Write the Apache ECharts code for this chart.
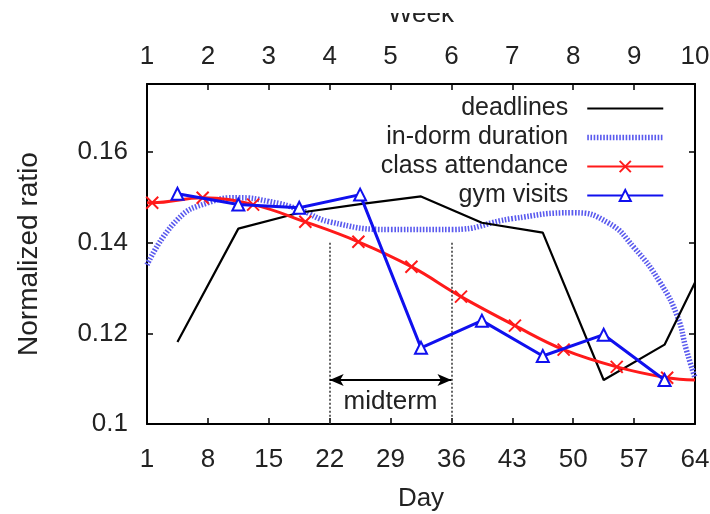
<!DOCTYPE html>
<html><head><meta charset="utf-8">
<script src="https://cdn.jsdelivr.net/npm/echarts@6/dist/echarts.min.js"></script>
<style>html,body{margin:0;padding:0;background:#fff}#c{width:710px;height:514px}</style>
</head><body><div id="c"></div>
<script>
// ---- data ----
const dayTicks = [1, 8, 15, 22, 29, 36, 43, 50, 57, 64];
const weekLabels = ['1', '2', '3', '4', '5', '6', '7', '8', '9', '10'];
const yTicks = [0.1, 0.12, 0.14, 0.16];

const deadlineDays = [4.5, 11.5, 18.5, 25.5, 32.5, 39.5, 46.5, 53.5, 60.5, 64];
const deadlineVals = [0.1181, 0.1431, 0.1466, 0.1485, 0.1502, 0.1444, 0.1422, 0.1097, 0.1175, 0.1312];

const dormDays = [1, 4.5, 8, 11.5, 15, 18.5, 22, 29, 36, 43, 50, 54, 57, 60, 62, 63, 64];
const dormVals = [0.1351, 0.1451, 0.1488, 0.1499, 0.1491, 0.1473, 0.1446, 0.1429, 0.1429, 0.1453, 0.1466, 0.1444, 0.1389, 0.1312, 0.1236, 0.1164, 0.1102];

const classDays = [1, 1.6, 7.4, 13.2, 19.2, 25.3, 31.4, 37.1, 43.3, 48.9, 55, 60.8, 64];
const classVals = [0.1488, 0.1488, 0.1499, 0.1484, 0.1446, 0.1402, 0.1347, 0.1281, 0.1217, 0.1164, 0.1126, 0.1102, 0.1097];

const gymDays = [4.5, 11.5, 18.5, 25.5, 32.5, 39.5, 46.5, 53.5, 60.5];
const gymVals = [0.1508, 0.1484, 0.1477, 0.1506, 0.1168, 0.1228, 0.1150, 0.1197, 0.1097];

const midtermDays = [22, 36];
const midtermTop = 0.14;
const arrowLevel = 0.1097;
const midtermLabelAt = [29, 0.1049];

// ---- build ----
const zip = (xs, ys) => xs.map((x, i) => [x, ys[i]]);
const FONT = 'Liberation Sans';
const TXT = '#222';
const DORM = '#5a5aee';

const classData = zip(classDays, classVals).map((p, i, a) =>
  (i === 0 || i === a.length - 1) ? { value: p, symbol: 'none' } : p);

const chart = echarts.init(document.getElementById('c'), null, { renderer: 'canvas' });
chart.setOption({
  animation: false,
  backgroundColor: '#fff',
  textStyle: { fontFamily: FONT },
  grid: { left: 147, right: 15, top: 84, bottom: 90, containLabel: false, outerBoundsMode: 'none' },
  legend: {
    orient: 'vertical', right: 39, top: 91, align: 'right',
    itemWidth: 76, itemHeight: 14, itemGap: 4,
    textStyle: { fontFamily: FONT, fontSize: 25, color: TXT, padding: [0, 14, 0, 0] },
    data: [
      { name: 'deadlines', itemStyle: { opacity: 0 } },
      { name: 'in-dorm duration', itemStyle: { opacity: 0 }, lineStyle: { width: 5.5, type: [1.6, 1.6], color: DORM } },
      'class attendance', 'gym visits'
    ]
  },
  xAxis: [{
    type: 'value', min: 1, max: 64, position: 'bottom',
    name: 'Day', nameLocation: 'middle', nameGap: 62,
    nameTextStyle: { fontFamily: FONT, fontSize: 26, color: TXT },
    axisLine: { show: true, lineStyle: { color: '#000', width: 2 } },
    axisTick: { show: true, inside: true, length: 6, customValues: dayTicks, lineStyle: { color: '#000', width: 1.5 } },
    axisLabel: { customValues: dayTicks, margin: 23, fontFamily: FONT, fontSize: 26, color: TXT },
    splitLine: { show: false }
  }, {
    type: 'value', min: 1, max: 64, position: 'top',
    name: 'Week', nameLocation: 'middle', nameGap: 56,
    nameTextStyle: { fontFamily: FONT, fontSize: 26, color: TXT },
    axisLine: { show: true, lineStyle: { color: '#000', width: 2 } },
    axisTick: { show: true, inside: true, length: 6, customValues: dayTicks, lineStyle: { color: '#000', width: 1.5 } },
    axisLabel: {
      customValues: dayTicks, margin: 14, fontFamily: FONT, fontSize: 26, color: TXT,
      formatter: v => weekLabels[dayTicks.indexOf(Math.round(v))] || ''
    },
    splitLine: { show: false }
  }],
  yAxis: [{
    type: 'value', min: 0.1, max: 0.175, position: 'left',
    name: 'Normalized ratio', nameLocation: 'middle', nameGap: 104,
    nameTextStyle: { fontFamily: FONT, fontSize: 28, color: TXT },
    axisLine: { show: true, lineStyle: { color: '#000', width: 2 } },
    axisTick: { show: true, inside: true, length: 6, customValues: yTicks, lineStyle: { color: '#000', width: 1.5 } },
    axisLabel: { customValues: yTicks, margin: 19, fontFamily: FONT, fontSize: 26, color: TXT },
    splitLine: { show: false }
  }, {
    type: 'value', min: 0.1, max: 0.175, position: 'right',
    axisLine: { show: true, lineStyle: { color: '#000', width: 2 } },
    axisTick: { show: true, inside: true, length: 6, customValues: yTicks, lineStyle: { color: '#000', width: 1.5 } },
    axisLabel: { show: false },
    splitLine: { show: false }
  }],
  series: [{
    name: 'deadlines', type: 'line', data: zip(deadlineDays, deadlineVals),
    symbol: 'none', lineStyle: { color: '#000', width: 2.2 }, itemStyle: { color: '#000' }, z: 3,
    markLine: {
      silent: true, symbol: ['none', 'none'], animation: false,
      lineStyle: { color: '#333', width: 1.5, type: [2, 2] },
      label: { show: false },
      data: [
        [{ coord: [midtermDays[0], midtermTop] }, { coord: [midtermDays[0], 0.1] }],
        [{ coord: [midtermDays[1], midtermTop] }, { coord: [midtermDays[1], 0.1] }],
        [{ coord: [midtermDays[0], arrowLevel], symbol: 'arrow', symbolSize: [9, 14], lineStyle: { color: '#000', width: 2, type: 'solid' } },
         { coord: [midtermDays[1], arrowLevel], symbol: 'arrow', symbolSize: [9, 14], lineStyle: { color: '#000', width: 2, type: 'solid' } }]
      ]
    },
    markPoint: {
      silent: true, symbol: 'rect', symbolSize: 1, itemStyle: { color: 'rgba(0,0,0,0)' },
      label: { show: true, position: 'inside', formatter: 'midterm', fontFamily: FONT, fontSize: 26, color: TXT },
      data: [{ coord: midtermLabelAt }]
    }
  }, {
    name: 'in-dorm duration', type: 'line', data: zip(dormDays, dormVals), smooth: 0.5,
    symbol: 'none', lineStyle: { color: DORM, width: 5.5, type: [1.6, 1.6] }, itemStyle: { color: DORM }, z: 2
  }, {
    name: 'class attendance', type: 'line', data: classData, smooth: 0.4,
    symbol: 'path://M0,0L10,10M10,0L0,10', symbolSize: 12, showAllSymbol: true,
    lineStyle: { color: '#ff1a1a', width: 3 },
    itemStyle: { color: '#ff1a1a', borderColor: '#ff1a1a', borderWidth: 2 }, z: 4
  }, {
    name: 'gym visits', type: 'line', data: zip(gymDays, gymVals),
    symbol: 'emptyTriangle', symbolSize: 12, showAllSymbol: true,
    lineStyle: { color: '#1010ee', width: 3 },
    itemStyle: { color: '#1010ee', borderColor: '#1010ee', borderWidth: 2.5 }, z: 5
  }],
  graphic: [{ type: 'rect', z: 100, shape: { x: 0, y: 0, width: 710, height: 13 }, style: { fill: '#fff' } }]
});
</script></body></html>
